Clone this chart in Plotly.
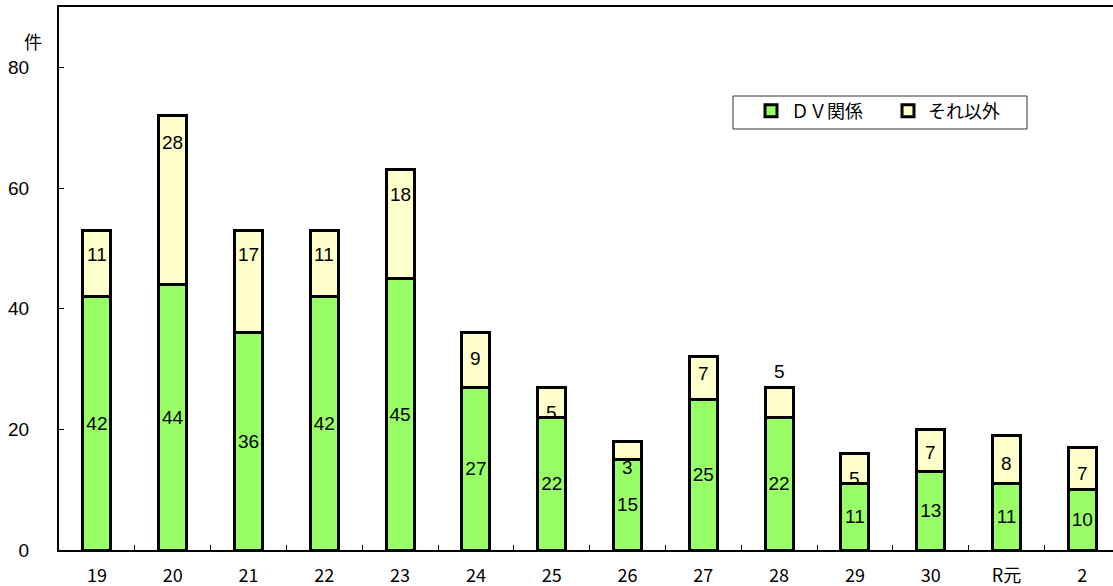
import plotly.graph_objects as go

# ---- data ----
categories = ["19", "20", "21", "22", "23", "24", "25", "26", "27", "28", "29", "30", "R元", "2"]
dv_values = [42, 44, 36, 42, 45, 27, 22, 15, 25, 22, 11, 13, 11, 10]
other_values = [11, 28, 17, 11, 18, 9, 5, 3, 7, 5, 5, 7, 8, 7]
y_ticks = [0, 20, 40, 60, 80]

# label positions (value-axis units) for the "それ以外" labels, as placed in the original
other_label_pos = [48.9, 67.6, 48.9, 48.9, 58.9, 31.8, 22.8, 13.7, 29.2, 29.6, 11.8, 16.1, 14.4, 12.6]

GREEN = "#99FF66"
YELLOW = "#FFFFCC"
FONT = "Liberation Sans, Arial, Noto Sans CJK JP, sans-serif"
JFONT = "Noto Sans CJK JP, Liberation Sans, sans-serif"
FS = 19

L, R, T, B = 59, 0, 7, 36
W, H = 1113, 586
pw = W - L - R
ph = H - T - B
cat_w = 75.8


def px_x(x):
    return (x - L) / pw


def px_y(y):
    return (H - B - y) / ph


fig = go.Figure()
fig.add_trace(go.Bar(
    x=categories, y=dv_values, name="ＤＶ関係",
    marker=dict(color=GREEN, line=dict(color="black", width=3)),
    text=[str(v) for v in dv_values], textposition="inside",
    insidetextanchor="middle", textangle=0,
    textfont=dict(family=FONT, size=FS, color="black"),
    hoverinfo="x+y",
))
fig.add_trace(go.Bar(
    x=categories, y=other_values, name="それ以外",
    marker=dict(color=YELLOW, line=dict(color="black", width=3)),
    hoverinfo="x+y",
))

for i, (v, p) in enumerate(zip(other_values, other_label_pos)):
    fig.add_annotation(x=i, y=p, xref="x", yref="y", text=str(v), showarrow=False,
                       font=dict(family=FONT, size=FS, color="black"))

# unit label
fig.add_annotation(x=px_x(22), y=px_y(26), xref="paper", yref="paper", text="件",
                   showarrow=False, font=dict(family=JFONT, size=18, color="black"))

# legend box
fig.add_shape(type="rect", xref="paper", yref="paper",
              x0=px_x(733), x1=px_x(1027), y0=px_y(129), y1=px_y(96),
              line=dict(color="#333333", width=1), fillcolor="rgba(0,0,0,0)")

fig.update_layout(
    width=W, height=H,
    margin=dict(l=L, r=R, t=T, b=B),
    paper_bgcolor="white", plot_bgcolor="white",
    barmode="stack", bargap=0.631,
    font=dict(family=FONT, size=FS, color="black"),
    showlegend=True,
    legend=dict(orientation="h", x=px_x(751), y=px_y(111), xanchor="left", yanchor="middle",
                traceorder="normal", bgcolor="rgba(0,0,0,0)", borderwidth=0,
                font=dict(family=JFONT, size=18, color="black"),
                itemwidth=30, entrywidth=92),
    xaxis=dict(type="category", range=[-0.5, -0.5 + pw / cat_w],
               showline=True, linecolor="black", linewidth=2, mirror=True,
               ticks="inside", ticklen=5, tickcolor="black", tickwidth=1,
               tickson="boundaries", showgrid=False,
               tickfont=dict(family=JFONT, size=18), ticklabelstandoff=8),
    yaxis=dict(range=[0, 90], tickvals=y_ticks,
               showline=True, linecolor="black", linewidth=2,
               ticks="inside", ticklen=5, tickcolor="black", tickwidth=1,
               showgrid=False, zeroline=False,
               tickfont=dict(family=FONT, size=FS), ticklabelstandoff=24),
)

fig.write_html("out.html", config={"displayModeBar": False},
               post_script="document.body.style.margin='0';document.body.style.overflow='hidden';")
